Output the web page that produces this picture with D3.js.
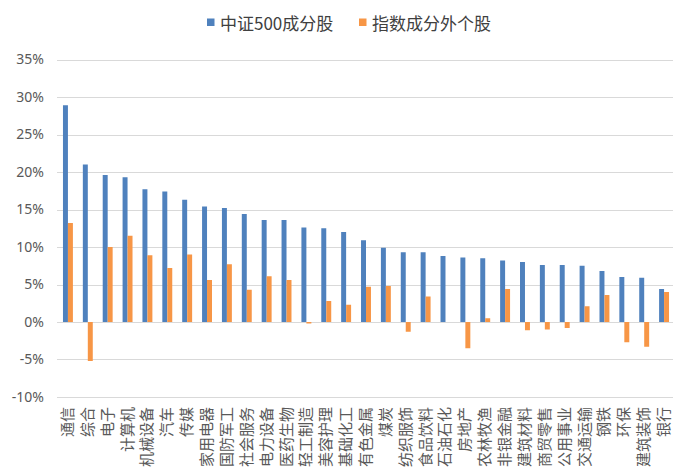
<!DOCTYPE html>
<html>
<head>
<meta charset="utf-8">
<script src="https://cdn.jsdelivr.net/npm/d3@7"></script>
<style>
  html, body { margin: 0; padding: 0; background: #fff; }
  svg { display: block; font-family: "Noto Sans CJK SC", "Noto Sans", sans-serif; }
</style>
</head>
<body>
<svg id="chart" width="682" height="474"></svg>
<script>
// Industry categories (申万一级)
const categories = ["通信","综合","电子","计算机","机械设备","汽车","传媒","家用电器","国防军工","社会服务","电力设备","医药生物","轻工制造","美容护理","基础化工","有色金属","煤炭","纺织服饰","食品饮料","石油石化","房地产","农林牧渔","非银金融","建筑材料","商贸零售","公用事业","交通运输","钢铁","环保","建筑装饰","银行"];

// Returns (%) of CSI 500 constituents
const csi500Values = [28.9,21.0,19.6,19.3,17.7,17.4,16.3,15.4,15.2,14.4,13.6,13.6,12.6,12.5,12.0,10.9,9.9,9.3,9.3,8.8,8.6,8.5,8.2,8.0,7.6,7.6,7.5,6.8,6.0,5.9,4.4];

// Returns (%) of stocks outside the index
const outsideValues = [13.2,-5.2,10.0,11.5,8.9,7.2,9.0,5.6,7.7,4.3,6.1,5.6,-0.2,2.8,2.3,4.7,4.8,-1.3,3.4,0,-3.5,0.5,4.4,-1.1,-1.0,-0.8,2.1,3.6,-2.7,-3.3,4.0];

const seriesNames = ["中证500成分股", "指数成分外个股"];
const seriesColors = ["#4f81bd", "#f79646"];
const yTicks = [-10, -5, 0, 5, 10, 15, 20, 25, 30, 35];

const svg = d3.select("#chart");

const x = d3.scaleBand().domain(categories).range([58, 674]).paddingInner(0.5).paddingOuter(0.25);
const x1 = d3.scaleBand().domain([0, 1]).range([0, x.bandwidth()]).padding(0);
const y = d3.scaleLinear().domain([-10, 35]).range([397, 59.5]);

// Horizontal gridlines
svg.append("g")
  .selectAll("line")
  .data(yTicks)
  .join("line")
  .attr("x1", 57).attr("x2", 673)
  .attr("y1", d => Math.round(y(d)) + 0.5)
  .attr("y2", d => Math.round(y(d)) + 0.5)
  .attr("stroke", "#d9d9d9")
  .attr("stroke-width", 1);

// Y axis labels
const yAxis = d3.axisLeft(y).tickValues(yTicks).tickFormat(d => d + "%").tickSize(0).tickPadding(0);
const gy = svg.append("g").attr("transform", "translate(44,0)").call(yAxis);
gy.select(".domain").remove();
gy.selectAll("text")
  .attr("font-size", 14)
  .attr("fill", "#595959")
  .attr("font-family", "'Noto Sans', sans-serif");

// Bars
const seriesData = [csi500Values, outsideValues];
seriesData.forEach((vals, s) => {
  svg.append("g")
    .selectAll("rect")
    .data(vals.map((v, i) => ({ cat: categories[i], v })))
    .join("rect")
    .attr("x", d => x(d.cat) + x1(s))
    .attr("width", x1.bandwidth())
    .attr("y", d => y(Math.max(0, d.v)))
    .attr("height", d => Math.abs(y(d.v) - y(0)))
    .attr("fill", seriesColors[s]);
});

// Category labels, rotated, under the plot
svg.append("g")
  .selectAll("text")
  .data(categories)
  .join("text")
  .attr("transform", d => `translate(${x(d) + x.bandwidth() / 2 - 1.5},407) rotate(-90)`)
  .attr("text-anchor", "end")
  .attr("dominant-baseline", "central")
  .attr("font-size", 15)
  .attr("fill", "#595959")
  .text(d => d);

// Legend
const legendItems = [
  { name: seriesNames[0], color: seriesColors[0], sx: 207, tx: 220 },
  { name: seriesNames[1], color: seriesColors[1], sx: 359, tx: 372 }
];
const lg = svg.append("g");
legendItems.forEach(it => {
  lg.append("rect")
    .attr("x", it.sx).attr("y", 18.5)
    .attr("width", 7.5).attr("height", 7.5)
    .attr("fill", it.color);
  lg.append("text")
    .attr("x", it.tx).attr("y", 22.5)
    .attr("dominant-baseline", "central")
    .attr("font-size", 17)
    .attr("fill", "#404040")
    .text(it.name);
});
</script>
</body>
</html>
